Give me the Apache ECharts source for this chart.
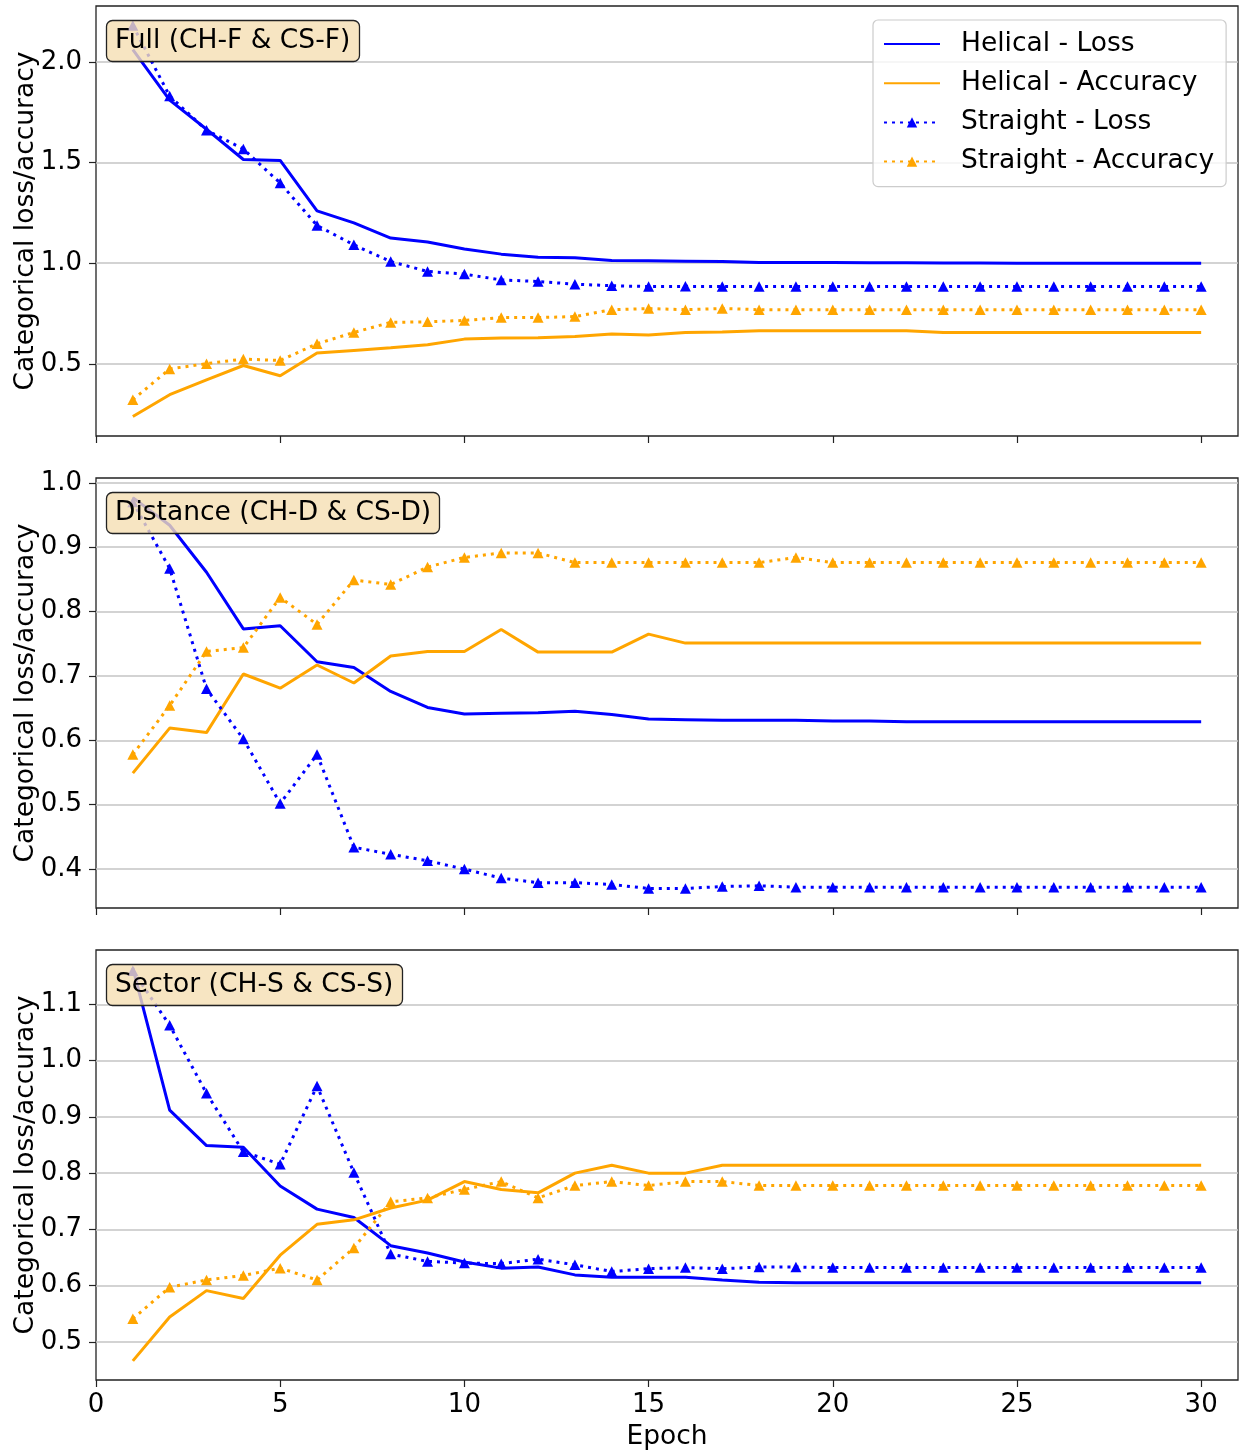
<!DOCTYPE html>
<html>
<head>
<meta charset="utf-8">
<script src="https://cdn.jsdelivr.net/npm/echarts@6/dist/echarts.min.js"></script>
<style>
  html, body { margin: 0; padding: 0; background: #ffffff; }
  #chart { width: 1241px; height: 1450px; }
</style>
</head>
<body>
<div id="chart"></div>
<script>
// Training curves: helical vs straight, loss and accuracy per epoch
const epochs = [1,2,3,4,5,6,7,8,9,10,11,12,13,14,15,16,17,18,19,20,21,22,23,24,25,26,27,28,29,30];

// Full (CH-F & CS-F)
const fullHelicalLoss = [2.06,1.81,1.665,1.515,1.51,1.26,1.20,1.125,1.105,1.07,1.045,1.03,1.027,1.013,1.012,1.01,1.008,1.004,1.004,1.003,1.002,1.002,1.001,1.001,1.0,1.0,1.0,1.0,1.0,1.0];
const fullHelicalAcc = [0.239,0.347,0.421,0.492,0.441,0.554,0.567,0.580,0.595,0.623,0.628,0.630,0.636,0.648,0.643,0.656,0.658,0.664,0.664,0.664,0.664,0.664,0.656,0.656,0.656,0.656,0.656,0.656,0.656,0.656];
const fullStraightLoss = [2.18,1.83,1.66,1.567,1.398,1.187,1.091,1.008,0.959,0.946,0.917,0.909,0.896,0.888,0.884,0.885,0.884,0.884,0.884,0.884,0.884,0.884,0.884,0.884,0.884,0.884,0.884,0.884,0.884,0.884];
const fullStraightAcc = [0.322,0.475,0.501,0.524,0.517,0.600,0.656,0.706,0.709,0.716,0.730,0.730,0.735,0.769,0.775,0.769,0.775,0.769,0.769,0.769,0.769,0.769,0.769,0.769,0.769,0.769,0.769,0.769,0.769,0.769];

// Distance (CH-D & CS-D)
const distHelicalLoss = [0.977,0.934,0.861,0.773,0.778,0.722,0.713,0.676,0.651,0.641,0.642,0.643,0.645,0.640,0.633,0.632,0.631,0.631,0.631,0.630,0.630,0.629,0.629,0.629,0.629,0.629,0.629,0.629,0.629,0.629];
const distHelicalAcc = [0.549,0.619,0.612,0.703,0.681,0.717,0.689,0.731,0.738,0.738,0.772,0.737,0.737,0.737,0.765,0.751,0.751,0.751,0.751,0.751,0.751,0.751,0.751,0.751,0.751,0.751,0.751,0.751,0.751,0.751];
const distStraightLoss = [0.970,0.867,0.680,0.602,0.502,0.578,0.434,0.423,0.413,0.400,0.386,0.379,0.379,0.376,0.370,0.370,0.373,0.374,0.372,0.372,0.372,0.372,0.372,0.372,0.372,0.372,0.372,0.372,0.372,0.372];
const distStraightAcc = [0.578,0.654,0.738,0.744,0.822,0.780,0.849,0.842,0.869,0.884,0.891,0.891,0.876,0.876,0.876,0.876,0.876,0.876,0.884,0.876,0.876,0.876,0.876,0.876,0.876,0.876,0.876,0.876,0.876,0.876];

// Sector (CH-S & CS-S)
const sectHelicalLoss = [1.165,0.912,0.849,0.846,0.777,0.736,0.721,0.671,0.658,0.642,0.631,0.633,0.619,0.615,0.615,0.615,0.610,0.606,0.605,0.605,0.605,0.605,0.605,0.605,0.605,0.605,0.605,0.605,0.605,0.605];
const sectHelicalAcc = [0.466,0.544,0.591,0.577,0.654,0.709,0.717,0.738,0.752,0.785,0.771,0.765,0.800,0.814,0.800,0.800,0.814,0.814,0.814,0.814,0.814,0.814,0.814,0.814,0.814,0.814,0.814,0.814,0.814,0.814];
const sectStraightLoss = [1.160,1.063,0.942,0.838,0.816,0.955,0.801,0.656,0.643,0.640,0.639,0.647,0.637,0.625,0.630,0.632,0.630,0.633,0.633,0.632,0.632,0.632,0.632,0.632,0.632,0.632,0.632,0.632,0.632,0.632];
const sectStraightAcc = [0.541,0.597,0.610,0.618,0.631,0.610,0.667,0.749,0.756,0.771,0.785,0.756,0.778,0.785,0.778,0.785,0.785,0.778,0.778,0.778,0.778,0.778,0.778,0.778,0.778,0.778,0.778,0.778,0.778,0.778];

// Axis ticks and labels
const xTicks = [0, 5, 10, 15, 20, 25, 30];
const yTicksFull = [0.5, 1.0, 1.5, 2.0];
const yTicksDist = [0.4, 0.5, 0.6, 0.7, 0.8, 0.9, 1.0];
const yTicksSect = [0.5, 0.6, 0.7, 0.8, 0.9, 1.0, 1.1];

const panelTitles = ['Full (CH-F & CS-F)', 'Distance (CH-D & CS-D)', 'Sector (CH-S & CS-S)'];
const seriesNames = ['Helical - Loss', 'Helical - Accuracy', 'Straight - Loss', 'Straight - Accuracy'];
const xLabel = 'Epoch';
const yLabel = 'Categorical loss/accuracy';

const panels = [
  { title: panelTitles[0], yMin: 0.142, yMax: 2.277, yTicks: yTicksFull,
    series: [fullHelicalLoss, fullHelicalAcc, fullStraightLoss, fullStraightAcc] },
  { title: panelTitles[1], yMin: 0.3396, yMax: 1.0074, yTicks: yTicksDist,
    series: [distHelicalLoss, distHelicalAcc, distStraightLoss, distStraightAcc] },
  { title: panelTitles[2], yMin: 0.432, yMax: 1.197, yTicks: yTicksSect,
    series: [sectHelicalLoss, sectHelicalAcc, sectStraightLoss, sectStraightAcc] }
];

const FONT = 'DejaVu Sans';
const BLUE = '#0000ff';
const ORANGE = '#ffa500';
const colors = [BLUE, ORANGE, BLUE, ORANGE];
const dotted = [3, 5];

const gridTop = [6, 478, 950];
const gridH = 430;

const grids = [], xAxes = [], yAxes = [], series = [], titles = [];

panels.forEach((p, i) => {
  grids.push({
    left: 96, width: 1142, top: gridTop[i], height: gridH,
    outerBoundsMode: 'none', containLabel: false,
    show: true, borderColor: '#222222', borderWidth: 1.3, backgroundColor: 'transparent'
  });
  const last = i === panels.length - 1;
  xAxes.push({
    gridIndex: i, type: 'value', min: 0, max: 31,
    axisLine: { show: false },
    axisTick: { show: true, length: 7, lineStyle: { color: '#222222', width: 1.2 }, customValues: xTicks },
    axisLabel: { show: last, customValues: xTicks, margin: 12, fontSize: 26, color: '#000000', fontFamily: FONT },
    splitLine: { show: false },
    name: last ? xLabel : '', nameLocation: 'middle', nameGap: 44, nameMoveOverlap: false,
    nameTextStyle: { fontSize: 26.5, color: '#000000', fontFamily: FONT }
  });
  yAxes.push({
    gridIndex: i, type: 'value', min: p.yMin, max: p.yMax,
    axisLine: { show: false },
    axisTick: { show: true, length: 7, lineStyle: { color: '#222222', width: 1.2 }, customValues: p.yTicks },
    axisLabel: { customValues: p.yTicks, margin: 14, fontSize: 26, color: '#000000', fontFamily: FONT,
                 formatter: v => v.toFixed(1) },
    splitLine: { show: true, lineStyle: { color: '#c4c4c4', width: 1.5 } },
    name: yLabel, nameLocation: 'middle', nameGap: 56, nameRotate: 90, nameMoveOverlap: false,
    nameTextStyle: { fontSize: 26.5, color: '#000000', fontFamily: FONT }
  });
  p.series.forEach((vals, k) => {
    const straight = k >= 2;
    series.push({
      name: seriesNames[k], type: 'line', xAxisIndex: i, yAxisIndex: i,
      data: epochs.map((e, j) => [e, vals[j]]),
      symbol: straight ? 'triangle' : 'none',
      symbolSize: [11, 10.5], showAllSymbol: true,
      itemStyle: { color: colors[k] },
      lineStyle: { color: colors[k], width: 3, type: straight ? dotted : 'solid', cap: 'butt' },
      emphasis: { disabled: true }, animation: false, clip: true, z: 2 + k
    });
  });
  titles.push({
    text: p.title, left: 106, top: gridTop[i] + 14,
    padding: [6, 9, 6, 9],
    backgroundColor: 'rgba(245,222,179,0.8)', borderColor: '#222222', borderWidth: 1.3, borderRadius: 6,
    textStyle: { fontSize: 26.5, fontWeight: 'normal', color: '#000000', fontFamily: FONT, lineHeight: 30 }
  });
});

// Legend entries: solid lines have no marker, dotted lines carry the triangle
const legendData = seriesNames.map((n, k) => k < 2
  ? { name: n, itemStyle: { opacity: 0 } }
  : { name: n });

const chart = echarts.init(document.getElementById('chart'), null, { renderer: 'canvas' });
chart.setOption({
  animation: false,
  backgroundColor: '#ffffff',
  title: titles,
  grid: grids,
  xAxis: xAxes,
  yAxis: yAxes,
  legend: {
    data: legendData, orient: 'vertical', left: 873, top: 20,
    itemWidth: 56, itemHeight: 13, itemGap: 9.2,
    padding: [9, 12, 10, 10],
    backgroundColor: 'rgba(255,255,255,0.8)', borderColor: '#cccccc', borderWidth: 1.2, borderRadius: 5,
    textStyle: { fontSize: 26.5, color: '#000000', fontFamily: FONT, lineHeight: 30, padding: [0, 0, 0, 16] }
  },
  series: series
});
</script>
</body>
</html>
